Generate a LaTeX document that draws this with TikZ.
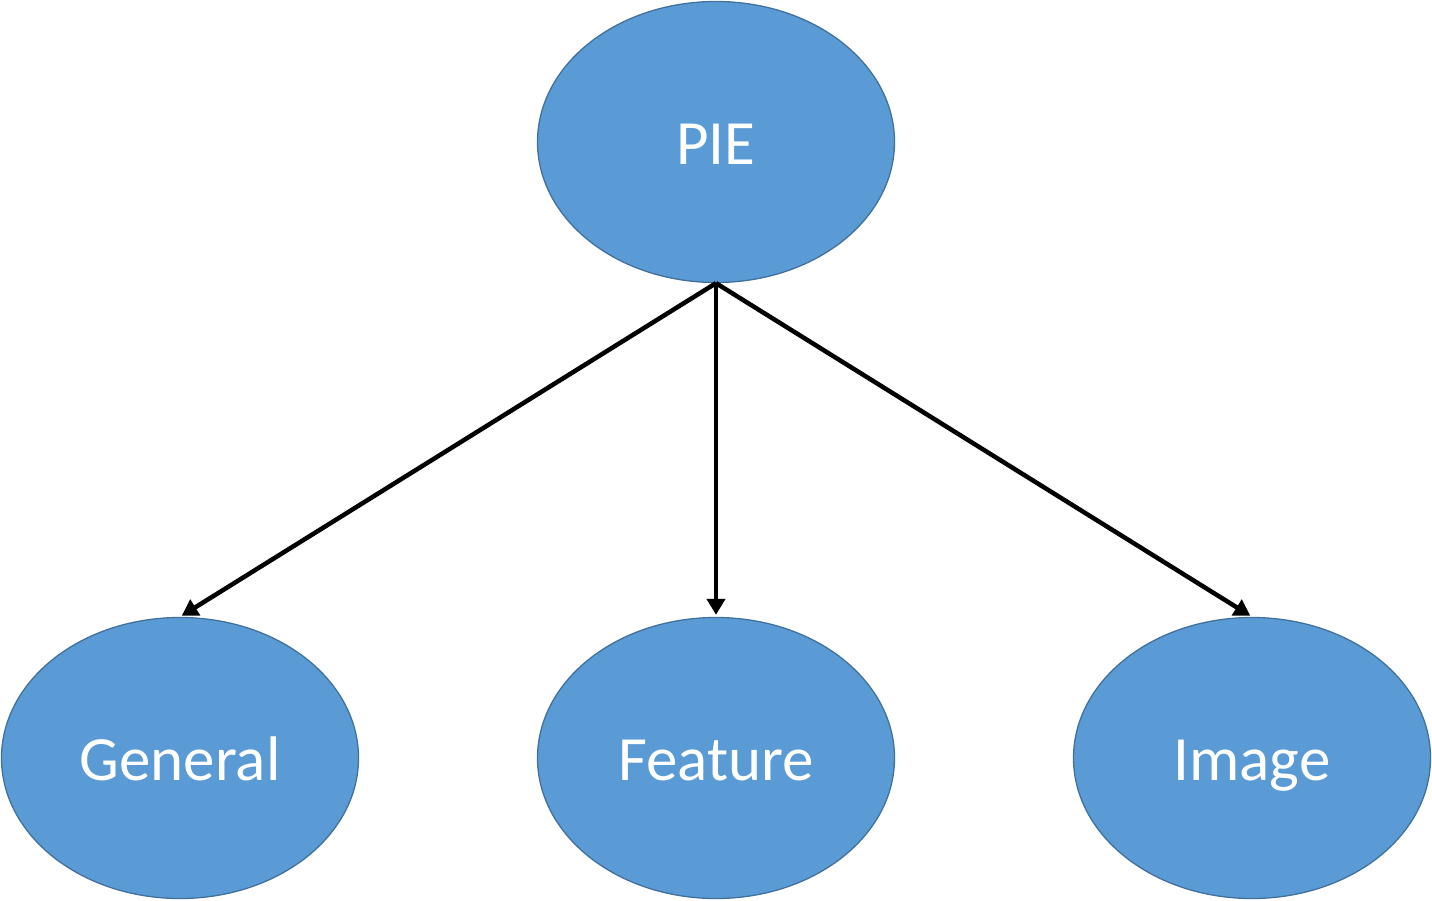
\documentclass[tikz,border=0pt]{standalone}
\usepackage{fontspec}
\setmainfont{Carlito}
\usetikzlibrary{arrows.meta,shapes.geometric}
\definecolor{fillblue}{HTML}{5B9BD5}
\definecolor{edgeblue}{HTML}{41719C}
\begin{document}
\begin{tikzpicture}[x=1pt,y=-1pt,
  bubble/.style={ellipse,draw=edgeblue,fill=fillblue,line width=1.3pt,minimum width=357pt,minimum height=281pt,inner sep=0pt,
    text=white,font=\fontsize{63}{70}\selectfont,text height=44pt,text depth=0pt},
  link/.style={line width=4.5pt,-{Triangle[length=16pt,width=18pt]},shorten >=2pt}]
\useasboundingbox (0,0) rectangle (1432,900);
\node[bubble] (pie) at (716,142) {PIE};
\node[bubble] (gen) at (180,758) {General};
\node[bubble] (fea) at (716,758) {Feature};
\node[bubble] (img) at (1252,758) {Image};
\draw[link] (pie.south) -- (gen.north);
\draw[link] (pie.south) -- (fea.north);
\draw[link] (pie.south) -- (img.north);
\end{tikzpicture}
\end{document}
